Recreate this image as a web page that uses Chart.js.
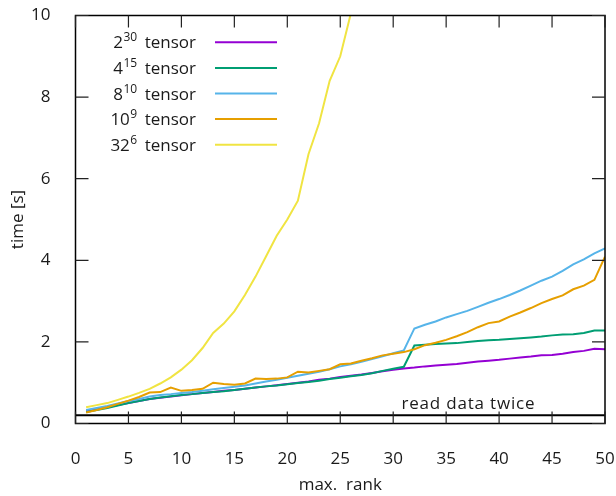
<!DOCTYPE html>
<html>
<head>
<meta charset="utf-8">
<script src="https://cdn.jsdelivr.net/npm/chart.js@4.4.1/dist/chart.umd.min.js"></script>
<style>
  html, body { margin: 0; padding: 0; background: #fff; }
</style>
</head>
<body>
<canvas id="chart" width="616" height="496"></canvas>
<script>
const ranks = [1, 2, 3, 4, 5, 6, 7, 8, 9, 10, 11, 12, 13, 14, 15, 16, 17, 18, 19, 20,
  21, 22, 23, 24, 25, 26, 27, 28, 29, 30, 31, 32, 33, 34, 35, 36, 37, 38, 39, 40,
  41, 42, 43, 44, 45, 46, 47, 48, 49, 50];

// 2^30 tensor
const t2 = [0.30, 0.35, 0.40, 0.45, 0.50, 0.55, 0.60, 0.63, 0.66, 0.69, 0.72, 0.75, 0.77, 0.80, 0.82,
  0.85, 0.88, 0.91, 0.94, 0.97, 1.00, 1.03, 1.07, 1.10, 1.14, 1.17, 1.20, 1.24, 1.28, 1.32,
  1.35, 1.37, 1.40, 1.42, 1.44, 1.46, 1.49, 1.52, 1.54, 1.56, 1.59, 1.62, 1.64, 1.67, 1.68,
  1.71, 1.75, 1.78, 1.83, 1.82];
// 4^15 tensor
const t4 = [0.28, 0.33, 0.38, 0.44, 0.50, 0.55, 0.60, 0.64, 0.67, 0.70, 0.72, 0.75, 0.77, 0.79, 0.82,
  0.85, 0.88, 0.91, 0.93, 0.96, 0.99, 1.02, 1.05, 1.09, 1.12, 1.16, 1.19, 1.23, 1.29, 1.34,
  1.39, 1.91, 1.93, 1.95, 1.96, 1.97, 2.00, 2.02, 2.04, 2.05, 2.07, 2.09, 2.11, 2.13, 2.16,
  2.18, 2.19, 2.22, 2.28, 2.28];
// 8^10 tensor
const t8 = [0.33, 0.38, 0.43, 0.49, 0.55, 0.60, 0.66, 0.70, 0.72, 0.75, 0.77, 0.80, 0.84, 0.87, 0.90,
  0.93, 0.98, 1.03, 1.07, 1.12, 1.17, 1.22, 1.27, 1.33, 1.40, 1.45, 1.51, 1.58, 1.65, 1.72,
  1.79, 2.33, 2.42, 2.50, 2.60, 2.68, 2.76, 2.86, 2.96, 3.05, 3.15, 3.26, 3.38, 3.50, 3.60,
  3.74, 3.90, 4.02, 4.17, 4.29];
// 10^9 tensor
const t10 = [0.27, 0.33, 0.40, 0.48, 0.56, 0.65, 0.76, 0.77, 0.88, 0.80, 0.82, 0.85, 1.00, 0.97, 0.95,
  0.98, 1.10, 1.09, 1.10, 1.13, 1.27, 1.25, 1.29, 1.33, 1.45, 1.47, 1.54, 1.60, 1.67, 1.71,
  1.75, 1.82, 1.92, 1.98, 2.05, 2.14, 2.24, 2.36, 2.46, 2.50, 2.62, 2.72, 2.83, 2.95, 3.05,
  3.14, 3.29, 3.38, 3.52, 4.09];
// 32^6 tensor (leaves the plot above 10)
const t32 = [0.40, 0.45, 0.50, 0.58, 0.66, 0.75, 0.85, 0.98, 1.13, 1.32, 1.55, 1.85, 2.22, 2.45, 2.75,
  3.15, 3.60, 4.10, 4.60, 5.00, 5.46, 6.60, 7.36, 8.40, 9.00, 10.05, 11.30];

const seriesBase = ["2", "4", "8", "10", "32"];
const seriesExp = ["30", "15", "10", "9", "6"];
const seriesValues = [t2, t4, t8, t10, t32];
const seriesColors = ["#9400d3", "#009e73", "#56b4e9", "#e69f00", "#f0e442"];

const xTicks = [0, 5, 10, 15, 20, 25, 30, 35, 40, 45, 50];
const yTicks = [0, 2, 4, 6, 8, 10];

const readTwiceLevel = 0.2;
const readTwiceLabel = "read data twice";
const readTwiceAt = { x: 37.1, y: 0.35 };

const FONT = '"Open Sans", sans-serif';
const TEXT = "#1a1a1a";

const datasets = seriesValues.map((vals, i) => ({
  label: seriesBase[i] + "^" + seriesExp[i] + " tensor",
  data: vals.map((v, j) => ({ x: ranks[j], y: v })),
  borderColor: seriesColors[i],
  borderWidth: 2,
  pointRadius: 0,
  tension: 0,
  order: 10 - i,
  clip: 0,
}));
datasets.push({
  label: readTwiceLabel,
  data: [{ x: 0, y: readTwiceLevel }, { x: 50, y: readTwiceLevel }],
  borderColor: "#000",
  borderWidth: 2,
  pointRadius: 0,
  order: 20,
});

// gnuplot look: frame, inward ticks on all sides, label and legend
const gnuplotPlugin = {
  id: "gnuplot",
  afterDraw(chart) {
    const { ctx, chartArea: a, scales: { x, y } } = chart;
    ctx.save();

    ctx.strokeStyle = "#000";
    ctx.lineWidth = 1.5;
    ctx.strokeRect(a.left, a.top, a.right - a.left, a.bottom - a.top);

    ctx.strokeStyle = "#222";
    ctx.lineWidth = 1.2;
    ctx.beginPath();
    xTicks.forEach((v) => {
      const px = x.getPixelForValue(v);
      ctx.moveTo(px, a.bottom); ctx.lineTo(px, a.bottom - 12);
      ctx.moveTo(px, a.top); ctx.lineTo(px, a.top + 12);
    });
    yTicks.forEach((v) => {
      const py = y.getPixelForValue(v);
      ctx.moveTo(a.left, py); ctx.lineTo(a.left + 13, py);
      ctx.moveTo(a.right, py); ctx.lineTo(a.right - 13, py);
    });
    ctx.stroke();

    ctx.fillStyle = TEXT;
    ctx.font = "17px " + FONT;
    ctx.textAlign = "center";
    ctx.textBaseline = "alphabetic";
    ctx.letterSpacing = "0.8px";
    ctx.fillText(readTwiceLabel, x.getPixelForValue(readTwiceAt.x), y.getPixelForValue(readTwiceAt.y));
    ctx.letterSpacing = "0px";

    // legend: text right aligned, sample line on its right
    const textRight = 196, lineL = 215, lineR = 277, top = 42.3, step = 25.6;
    seriesBase.forEach((b, i) => {
      const cy = top + i * step;
      const base = cy + 6;
      ctx.textAlign = "left";
      ctx.font = "17px " + FONT;
      const wTensor = ctx.measureText("tensor").width;
      const wBase = ctx.measureText(b).width;
      ctx.font = "12px " + FONT;
      const wExp = ctx.measureText(seriesExp[i]).width;
      let xs = textRight - wTensor - 8 - wExp - wBase;
      ctx.font = "17px " + FONT;
      ctx.fillText(b, xs, base);
      ctx.fillText("tensor", textRight - wTensor, base);
      ctx.font = "12px " + FONT;
      ctx.fillText(seriesExp[i], xs + wBase + 0.5, base - 7);

      ctx.strokeStyle = seriesColors[i];
      ctx.lineWidth = 2;
      ctx.beginPath();
      ctx.moveTo(lineL, cy); ctx.lineTo(lineR, cy);
      ctx.stroke();
    });
    ctx.restore();
  },
};

new Chart(document.getElementById("chart"), {
  type: "line",
  data: { datasets },
  plugins: [gnuplotPlugin],
  options: {
    responsive: false,
    animation: false,
    layout: { padding: { top: 15.5, right: 11, left: 0, bottom: 0 } },
    plugins: { legend: { display: false }, tooltip: { enabled: false } },
    scales: {
      x: {
        type: "linear",
        min: 0,
        max: 50,
        afterFit: (s) => { s.height = 72.5; s.paddingLeft = 0; s.paddingRight = 0; },
        afterBuildTicks: (s) => { s.ticks = xTicks.map((v) => ({ value: v })); },
        grid: { display: false },
        border: { display: false },
        ticks: { color: TEXT, font: { family: FONT, size: 17 }, padding: 17, maxRotation: 0 },
        title: { display: true, text: "max.  rank", color: TEXT, font: { family: FONT, size: 17 }, padding: { top: 0, bottom: 1 } },
      },
      y: {
        min: 0,
        max: 10,
        afterFit: (s) => { s.width = 75.5; s.paddingTop = 0; s.paddingBottom = 0; },
        afterBuildTicks: (s) => { s.ticks = yTicks.map((v) => ({ value: v })); },
        grid: { display: false },
        border: { display: false },
        ticks: { color: TEXT, font: { family: FONT, size: 17 }, padding: 17 },
        title: { display: true, text: "time [s]", color: TEXT, font: { family: FONT, size: 17 }, padding: { top: 8, bottom: 0 } },
      },
    },
  },
});
</script>
</body>
</html>
